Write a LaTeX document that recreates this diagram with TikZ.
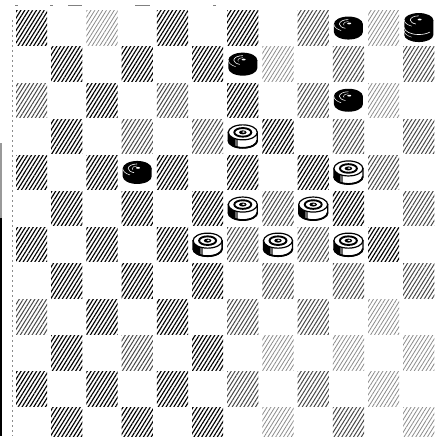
\documentclass[tikz,border=0pt]{standalone}
\usetikzlibrary{patterns.meta}
\def\sideB{(-14.5,-4) -- (-14.5,4) arc[start angle=180,end angle=0,x radius=14.5,y radius=7.5] -- (14.5,-4) -- cycle}
\tikzset{
  hatchD/.style={pattern={Lines[angle=58,distance=3.3pt,line width=1.15pt]},pattern color=black},
  hatchM/.style={pattern={Lines[angle=58,distance=3.3pt,line width=1.0pt]},pattern color=black!72},
  hatchL/.style={pattern={Lines[angle=58,distance=3.3pt,line width=0.8pt]},pattern color=black!45},
  bpiece/.pic={
    \fill \sideB;
    \fill (0,-4) ellipse[x radius=14.5,y radius=7.5];
    \draw[white,line width=0.6] (0,-8.5) arc[start angle=270,end angle=110,x radius=9,y radius=4.5];
    \draw[white,line width=0.5] (-14.5,-4) arc[start angle=180,end angle=120,x radius=14.5,y radius=7.5];
    \draw[white,line width=0.4] (0,-6.5) arc[start angle=270,end angle=150,x radius=5,y radius=2.5];
    \fill[white] (0.8,-4.6) ellipse[x radius=2,y radius=0.9];
  },
  wpiece/.pic={
    \fill[white] \sideB;
    \begin{scope}
      \clip \sideB;
      \fill (-16,-12) rectangle (-8,14);
      \fill[black!60] (-8,-12) rectangle (-5,14);
    \end{scope}
    \draw[line width=1.3] \sideB;
    \draw[line width=1.8] (-14.5,4) arc[start angle=180,end angle=0,x radius=14.5,y radius=7.5];
    \filldraw[fill=white,line width=1.2] (0,-4) ellipse[x radius=14.5,y radius=7.5];
    \draw[line width=1.9] (0,-4) ellipse[x radius=8.5,y radius=4.3];
    \fill (0,-4) ellipse[x radius=3.8,y radius=2];
    \fill[white] (0.7,-4.3) ellipse[x radius=1.6,y radius=0.7];
  },
  bking/.pic={
    \fill (-14.5,-8) -- (-14.5,7) arc[start angle=180,end angle=0,x radius=14.5,y radius=7] -- (14.5,-8) -- cycle;
    \fill (0,-8) ellipse[x radius=14.5,y radius=7];
    \draw[white,line width=0.6] (-14.5,-0.5) arc[start angle=180,end angle=40,x radius=14.5,y radius=7];
    \draw[white,line width=0.4] (-14.5,3) arc[start angle=180,end angle=120,x radius=14.5,y radius=7];
    \draw[white,line width=0.5] (-14.5,-8) arc[start angle=180,end angle=120,x radius=14.5,y radius=7];
    \draw[white,line width=0.6] (0,-12.2) arc[start angle=270,end angle=110,x radius=8.5,y radius=4.2];
    \fill[white] (0.8,-8.5) ellipse[x radius=2,y radius=0.9];
  }
}
% lighter-printed dark squares (row/column/level)
\foreach \rr/\cc/\lvl in {0/2/L,0/8/M,0/10/L,1/7/L,1/9/M,1/11/M,2/0/M,2/4/M,2/8/M,2/10/L,
  3/3/M,3/5/M,3/9/M,3/11/M,4/10/M,5/7/M,5/11/M,6/6/M,6/8/M,7/7/M,7/9/M,7/11/M,
  8/0/M,8/6/M,8/8/M,8/10/L,9/3/M,9/7/L,9/9/L,9/11/L,10/6/M,10/8/M,10/10/L,11/7/L,11/9/M,11/11/L}{
  \expandafter\xdef\csname sq\rr-\cc\endcsname{\lvl}}
\begin{document}
\begin{tikzpicture}[x=1pt,y=-1pt]
  \useasboundingbox (0,0) rectangle (444,436);
  \fill[white] (0,0) rectangle (444,436);
  \clip (0,0) rectangle (444,436);
  % dark (hatched) squares
  \foreach \r in {0,...,11}{
    \foreach \c in {0,...,11}{
      \pgfmathtruncatemacro\parity{mod(\r+\c,2)}
      \ifnum\parity=0
        \ifcsname sq\r-\c\endcsname
          \edef\lv{\csname sq\r-\c\endcsname}%
        \else
          \def\lv{D}%
        \fi
        \path[hatch\lv] ({14+35.2*\c+2},{10+36.1*\r+0.8}) rectangle ({14+35.2*(\c+1)-2},{10+36.1*(\r+1)-0.8});
      \fi
    }
  }
  % scan marks at the edges
  \draw[black!40,line width=2.4] (1.2,143) -- (1.2,218);
  \draw[line width=2.4] (1.2,218) -- (1.2,436);
  \draw[black!45,line width=0.5,dash pattern=on 2pt off 3pt] (12,20) -- (12,436);
  \foreach \a/\b in {15/18,50/53,68/82,135/150,213/216}{
    \draw[black!50,line width=0.8] (\a,5) -- (\b,5);
  }
  % black pieces
  \foreach \r/\c in {0/9,1/6,2/9,4/3}{
    \pic at ({14+35.2*(\c+0.5)},{10+36.1*(\r+0.5)}) {bpiece};
  }
  \pic at ({14+35.2*11.5},{10+36.1*0.5}) {bking};
  % white pieces
  \foreach \r/\c in {3/6,4/9,5/6,5/8,6/5,6/7,6/9}{
    \pic at ({14+35.2*(\c+0.5)},{10+36.1*(\r+0.5)}) {wpiece};
  }
\end{tikzpicture}
\end{document}
